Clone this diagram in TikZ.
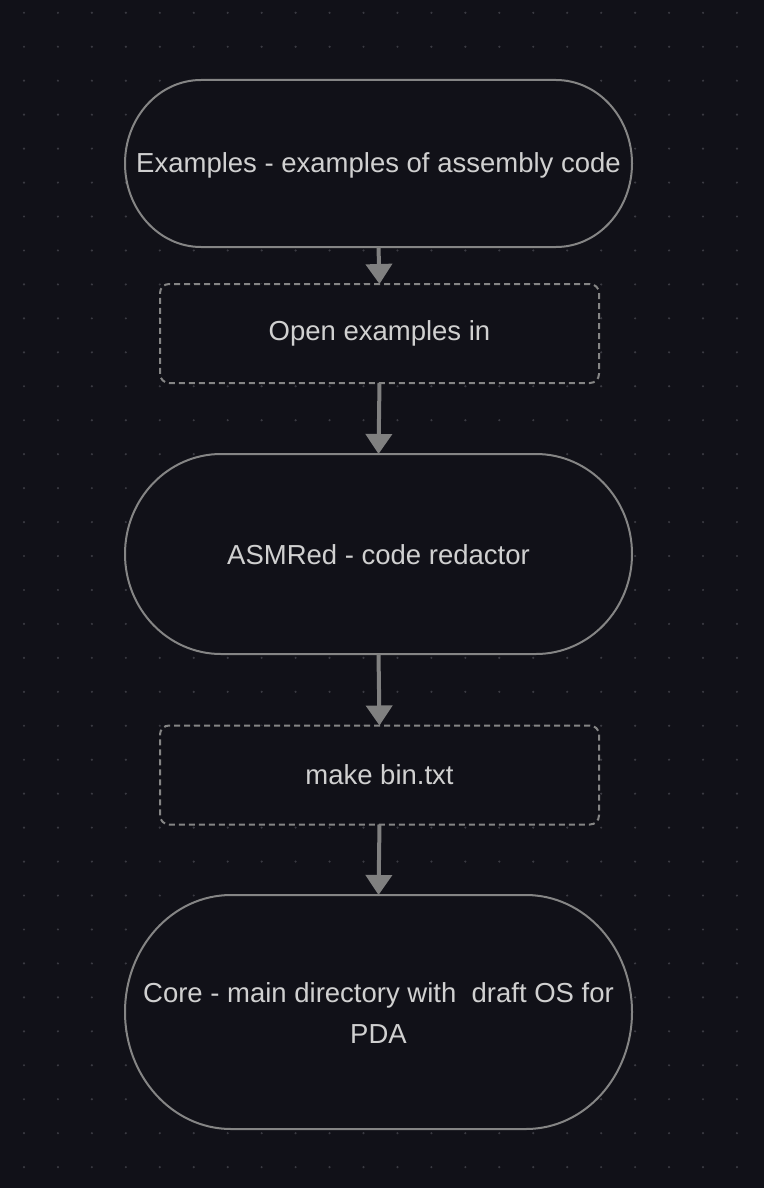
\documentclass[tikz,border=0pt]{standalone}
\usepackage{fontspec}
\setmainfont{Liberation Sans}
\usetikzlibrary{arrows.meta,calc}
\definecolor{bgc}{HTML}{111118}
\definecolor{dotc}{HTML}{3A3A42}
\definecolor{linec}{HTML}{858585}
\definecolor{arrc}{HTML}{808080}
\definecolor{txtc}{HTML}{D0D0D0}
\tikzset{
  stad/.style={draw=none, inner sep=0pt, outer sep=0pt, text=txtc, align=center,
    font=\fontsize{27.5}{41}\selectfont},
  stepbox/.style={draw=linec, line width=2pt, dash pattern=on 6pt off 4pt,
    rounded corners=9pt, fill=bgc, inner sep=0pt, outer sep=0pt, text=txtc,
    minimum width=439pt, minimum height=99pt, font=\fontsize{27.5}{41}\selectfont},
  shapeline/.style={draw=linec, line width=2pt, fill=bgc},
  conn/.style={draw=arrc, line width=4pt, -{Triangle[length=20pt,width=26pt]}}
}
\newcommand\mystadium[3]{%
  \path[shapeline] ([xshift=#2pt]#1.north west) -- ([xshift=-#2pt]#1.north east)
    arc[start angle=90,end angle=-90,x radius=#2pt,y radius=#3pt]
    -- ([xshift=#2pt]#1.south west)
    arc[start angle=270,end angle=90,x radius=#2pt,y radius=#3pt] -- cycle;}
\begin{document}
\begin{tikzpicture}[x=1pt,y=-1pt]
\fill[bgc] (0,0) rectangle (764,1188);
\useasboundingbox (0,0) rectangle (764,1188);
\foreach \i in {0,...,21}{
  \foreach \j in {0,...,34}{
    \fill[dotc] (24+33.95*\i,12.8+33.95*\j) circle[radius=1.2pt];
  }
}
% shapes (outlines first)
\node[stad, minimum width=507pt, minimum height=167pt] (n1) at (378.5,163.5) {};
\mystadium{n1}{76}{83.5}
\node[stad] at ([yshift=-2pt]n1.center) {Examples - examples of assembly code};

\node[stepbox] (n2) at (379.5,333.5) {Open examples in};

\node[stad, minimum width=507pt, minimum height=200pt] (n3) at (378.5,554) {};
\mystadium{n3}{96}{100}
\node[stad] at ([yshift=-1pt]n3.center) {ASMRed - code redactor};

\node[stepbox] (n4) at (379.5,775) {make bin.txt};

\node[stad, minimum width=507pt, minimum height=234pt] (n5) at (378.5,1012) {};
\mystadium{n5}{106}{117}
\node[stad] at ([yshift=-1pt]n5.center) {Core - main directory with\ \ draft OS for\\PDA};

\draw[conn] (n1.south) -- (n2.north);
\draw[conn] (n2.south) -- (n3.north);
\draw[conn] (n3.south) -- (n4.north);
\draw[conn] (n4.south) -- (n5.north);
\end{tikzpicture}
\end{document}
